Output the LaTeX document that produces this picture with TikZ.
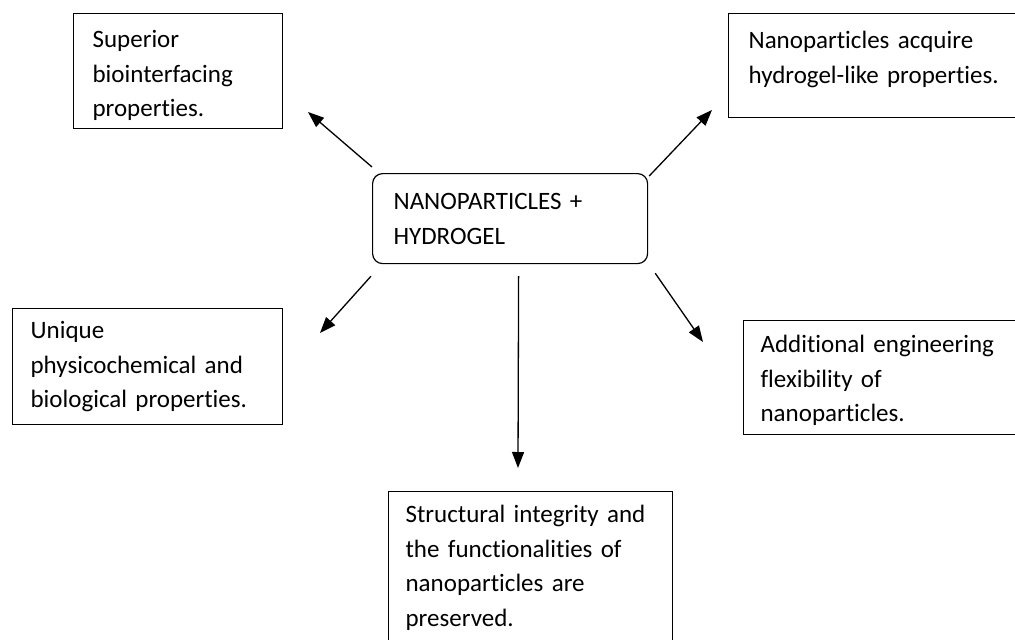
\documentclass[tikz,border=0pt]{standalone}
\usepackage{fontspec}
\setmainfont{Carlito}[Ligatures=NoCommon]
\usetikzlibrary{arrows.meta}
\begin{document}
\begin{tikzpicture}[x=1pt,y=-1pt,
  box/.style={draw, line width=1.2pt, inner ysep=0pt, align=left, anchor=north west,
              font=\fontsize{25}{34.5}\selectfont},
  arr/.style={line width=1.3pt, -{Triangle[length=16pt,width=12pt]}}]
\path[use as bounding box, clip] (0,0) rectangle (1015,640);
% boxes
\node[box, inner xsep=19pt, text width=171pt, text height=34pt, text depth=81pt] (tl) at (73,13)
  {Superior\\biointerfacing\\properties.};
\node[box, inner xsep=20pt, text width=257pt, text height=35pt, text depth=69pt] (tr) at (728,13)
  {Nanoparticles acquire\\hydrogel-like properties.};
\node[box, rounded corners=10pt, inner xsep=21pt, text width=233pt, text height=36pt, text depth=54pt] (c) at (372,173)
  {NANOPARTICLES +\\HYDROGEL};
\node[box, inner xsep=18pt, text width=234pt, text height=30pt, text depth=86pt] (lm) at (12,308)
  {Unique\\physicochemical and\\biological properties.};
\node[box, inner xsep=17pt, text width=248pt, text height=32pt, text depth=82pt] (rm) at (743,320)
  {Additional engineering\\flexibility of\\nanoparticles.};
\node[box, inner xsep=17pt, text width=250pt, text height=31pt, text depth=138pt] (bt) at (388,491)
  {Structural integrity and\\the functionalities of\\nanoparticles are\\preserved.};
% arrow tips
\coordinate (e1) at (308,112);
\coordinate (e2) at (712,110);
\coordinate (e3) at (320,333);
\coordinate (e4) at (518,468);
\coordinate (e5) at (703,342);
% connectors
\draw[arr] ([yshift=6pt]c.north west) -- (e1);
\draw[arr] ([xshift=1pt,yshift=-3pt]c.north east) -- (e2);
\draw[arr] ([xshift=-1pt,yshift=-12pt]c.south west) -- (e3);
\draw[arr] ([xshift=8.5pt,yshift=-12pt]c.south) -- (e4);
\draw[arr] ([xshift=7pt,yshift=-9pt]c.south east) -- (e5);
\end{tikzpicture}
\end{document}
